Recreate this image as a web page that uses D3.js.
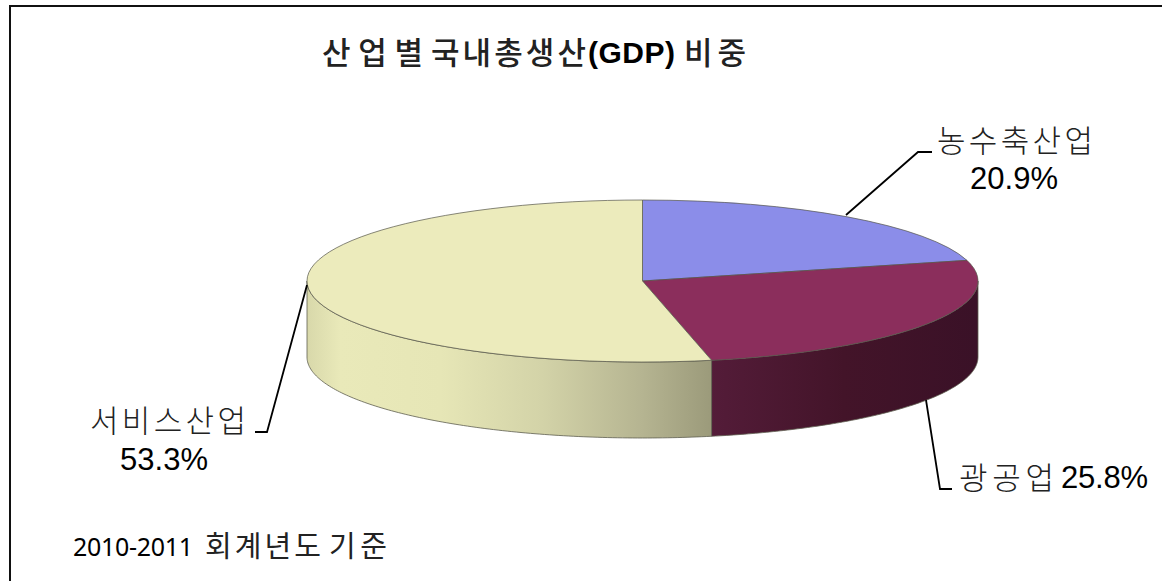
<!DOCTYPE html>
<html>
  <head>
  <meta charset="utf-8">
  <title>산업별 국내총생산(GDP) 비중</title>
  <style>
    body, html {
      margin: 0;
      background: #fff;
    }
    svg { display: block; }
    text { fill: #000; font-family: "Liberation Sans", "Noto Sans CJK KR", sans-serif; }
    .kr { font-family: "Noto Sans CJK KR", sans-serif; fill: #222; }
    .num { font-family: "Noto Sans", sans-serif; }
  </style>
  </head>
  <body>
  <svg id="svg" width="1162" height="581"></svg>

  <script src="https://cdn.jsdelivr.net/npm/d3@7"></script>
  <script>
    const categories = ['농수축산업', '광공업', '서비스산업']
    const shares = [20.9, 25.8, 53.3]
    const shareLabels = ['20.9%', '25.8%', '53.3%']
    const topColors = ['#8b8de9', '#8b2e5c', '#ecebbc']

    const cx = 642.5, cy = 281, rx = 335.5, ry = 81, depth = 76
    const svg = d3.select('#svg')

    // frame only has top and left edges in the original
    svg.append('path')
      .attr('d', 'M1162,6H10V581')
      .attr('fill', 'none')
      .attr('stroke', '#111')
      .attr('stroke-width', 2)

    const pie = d3.pie().sort(null).value(d => d)
    const slices = pie(shares)

    const xScale = d3.scaleLinear().domain([-1, 1]).range([cx - rx, cx + rx])
    const yScale = d3.scaleLinear().domain([-1, 1]).range([cy - ry, cy + ry])

    const defs = svg.append('defs')
    function addGradient(id, stops) {
      const g = defs.append('linearGradient')
        .attr('id', id)
        .attr('gradientUnits', 'userSpaceOnUse')
        .attr('x1', cx - rx).attr('x2', cx + rx)
        .attr('y1', 0).attr('y2', 0)
      stops.forEach(s => g.append('stop').attr('offset', s[0]).attr('stop-color', s[1]))
    }
    addGradient('sideMaroon', [[0.6, '#541c39'], [0.8, '#431429'], [1, '#3a1127']])
    addGradient('sideYellow', [[0, '#d8d8aa'], [0.05, '#e9e9b9'], [0.2, '#e6e6b6'], [0.35, '#d3d3a8'], [0.5, '#b5b491'], [0.6, '#9c9b7b']])

    // outer wall, front half of the disc only
    const wall = d3.area()
      .x(a => xScale(Math.sin(a)))
      .y0(a => yScale(-Math.cos(a)))
      .y1(a => yScale(-Math.cos(a)) + depth)

    function wallAngles(start, end) {
      const from = Math.max(start, Math.PI / 2)
      const to = Math.min(end, Math.PI * 1.5)
      if (from >= to) return []
      return d3.range(0, 121).map(i => from + (to - from) * i / 120)
    }

    const sideFills = [null, 'url(#sideMaroon)', 'url(#sideYellow)']
    slices.forEach((s, i) => {
      const angles = wallAngles(s.startAngle, s.endAngle)
      if (!angles.length) return
      svg.append('path')
        .attr('d', wall(angles))
        .attr('fill', sideFills[i])
        .attr('stroke', '#5f5f50')
        .attr('stroke-opacity', 0.8)
        .attr('stroke-width', 1)
    })

    const arc = d3.arc().innerRadius(0).outerRadius(rx)
    svg.append('g')
      .attr('transform', `translate(${cx},${cy}) scale(1,${ry / rx})`)
      .selectAll('path')
      .data(slices)
      .join('path')
      .attr('d', arc)
      .attr('fill', (d, i) => topColors[i])
      .attr('stroke', '#55554a')
      .attr('stroke-opacity', 0.7)
      .attr('stroke-width', 1)
      .attr('vector-effect', 'non-scaling-stroke')

    // leader lines
    const leaders = [
      [[846, 215], [918, 152], [932, 152]],
      [[926, 400], [940, 489], [952, 489]],
      [[307, 285], [267, 432], [255, 432]]
    ]
    svg.selectAll('.leader')
      .data(leaders)
      .join('path')
      .attr('class', 'leader')
      .attr('d', d3.line())
      .attr('fill', 'none')
      .attr('stroke', '#000')
      .attr('stroke-width', 1.8)

    // text runs: string, left x, baseline y, width, size, class, weight
    function run(str, x, y, w, size, cls, weight) {
      svg.append('text')
        .attr('class', cls || null)
        .attr('x', x)
        .attr('y', y)
        .attr('font-size', size)
        .attr('font-weight', weight || null)
        .attr('textLength', w)
        .attr('lengthAdjust', 'spacing')
        .text(str)
    }

    run('산업별', 322, 64, 101, 31, 'kr', 500)
    run('국내총생산', 431, 64, 155, 31, 'kr', 500)
    run('(GDP)', 588, 63, 87, 30, null, 700)
    run('비중', 684, 64, 62, 31, 'kr', 500)

    run(categories[0], 937, 152, 156, 31, 'kr', 300)
    run(shareLabels[0], 970, 189, 88, 31)

    run(categories[1], 959, 489, 95, 31, 'kr', 300)
    run(shareLabels[1], 1061, 488, 87, 31)

    run(categories[2], 90, 432, 156, 31, 'kr', 300)
    run(shareLabels[2], 120, 470, 88, 31)

    run('2010-2011', 73, 556, 120, 25, 'num')
    run('회계년도', 205, 557, 116, 29, 'kr', 400)
    run('기준', 329, 557, 58, 29, 'kr', 400)
  </script>
  </body>
</html>
